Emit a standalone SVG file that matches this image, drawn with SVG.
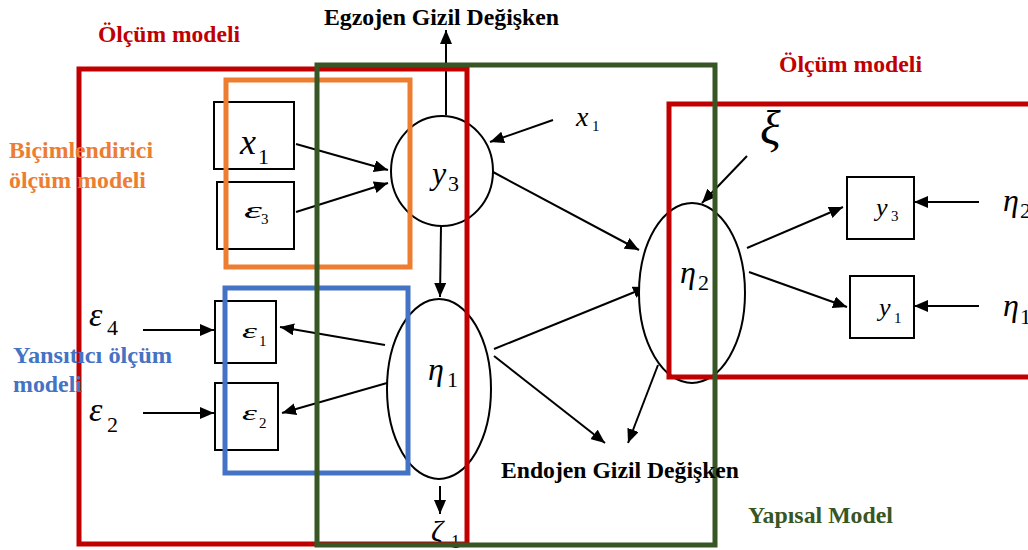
<svg xmlns="http://www.w3.org/2000/svg" width="1028" height="550" viewBox="0 0 1028 550">
<defs>
<marker id="ah" markerWidth="14" markerHeight="12" refX="14" refY="6" orient="auto" markerUnits="userSpaceOnUse"><path d="M0,0 L14,6 L0,12 z" fill="#000"/></marker>
<style>
.box{fill:#fff;stroke:#000;stroke-width:2}
.lat{fill:#fff;stroke:#000;stroke-width:2}
.con{stroke:#000;stroke-width:2;fill:none;marker-end:url(#ah)}
.frame{fill:none;stroke-width:5}
.m{font-family:"Liberation Serif",serif;font-style:italic;fill:#000}
.s{font-family:"Liberation Serif",serif;fill:#000}
.lb{font-family:"Liberation Serif",serif;font-weight:bold;font-size:23px}
</style>
</defs>
<rect width="1028" height="550" fill="#fff"/>

<g id="connectors">
<line class="con" x1="446" y1="115" x2="446" y2="30"/>
<line class="con" x1="441" y1="226" x2="440" y2="297"/>
<line class="con" x1="296" y1="144" x2="388" y2="170"/>
<line class="con" x1="296" y1="212" x2="388" y2="183"/>
<line class="con" x1="553" y1="120" x2="490" y2="142"/>
<line class="con" x1="493" y1="172" x2="639" y2="250"/>
<line class="con" x1="494" y1="349" x2="647" y2="287"/>
<line class="con" x1="494" y1="356" x2="605" y2="443"/>
<line class="con" x1="658" y1="365" x2="628" y2="443"/>
<line class="con" x1="747" y1="156" x2="702" y2="203"/>
<line class="con" x1="747" y1="248" x2="843" y2="207"/>
<line class="con" x1="749" y1="272" x2="847" y2="307"/>
<line class="con" x1="979" y1="202" x2="914" y2="202"/>
<line class="con" x1="979" y1="306" x2="914" y2="306"/>
<line class="con" x1="143" y1="330" x2="214" y2="330"/>
<line class="con" x1="143" y1="413" x2="214" y2="413"/>
<line class="con" x1="385" y1="345" x2="280" y2="327"/>
<line class="con" x1="387" y1="383" x2="282" y2="413"/>
<line class="con" x1="440" y1="486" x2="440" y2="514"/>
</g>

<g id="node-x1">
<rect class="box" x="214" y="102" width="80" height="67"/>
<text class="m" x="240" y="154" font-size="36">x</text><text class="s" x="258" y="164" font-size="22">1</text>
</g>
<g id="node-e3">
<rect class="box" x="217" y="182" width="77" height="67"/>
<text class="m" x="244" y="218" font-size="24" textLength="18" lengthAdjust="spacingAndGlyphs">ε</text><text class="s" x="261" y="224" font-size="15">3</text>
</g>
<g id="node-e1">
<rect class="box" x="215" y="301" width="61" height="62"/>
<text class="m" x="242" y="338" font-size="22" textLength="15" lengthAdjust="spacingAndGlyphs">ε</text><text class="s" x="259" y="346" font-size="15">1</text>
</g>
<g id="node-e2">
<rect class="box" x="215" y="383" width="63" height="67"/>
<text class="m" x="242" y="420" font-size="22" textLength="15" lengthAdjust="spacingAndGlyphs">ε</text><text class="s" x="259" y="428" font-size="15">2</text>
</g>
<g id="node-y3">
<ellipse class="lat" cx="442" cy="171" rx="51" ry="55"/>
<text class="m" x="432" y="184" font-size="32">y</text><text class="s" x="448" y="191" font-size="22">3</text>
</g>
<g id="node-eta1">
<ellipse class="lat" cx="439" cy="389" rx="52" ry="90"/>
<text class="m" x="428" y="380" font-size="32">η</text><text class="s" x="447" y="387" font-size="22">1</text>
</g>
<g id="node-eta2">
<ellipse class="lat" cx="692" cy="293" rx="53" ry="90"/>
<text class="m" x="680" y="283" font-size="32">η</text><text class="s" x="698" y="290" font-size="22">2</text>
</g>
<g id="node-y3b">
<rect class="box" x="847" y="177" width="67" height="62"/>
<text class="m" x="876" y="216" font-size="26">y</text><text class="s" x="891" y="221" font-size="15">3</text>
</g>
<g id="node-y1b">
<rect class="box" x="850" y="276" width="64" height="62"/>
<text class="m" x="879" y="316" font-size="26">y</text><text class="s" x="894" y="323" font-size="15">1</text>
</g>

<g id="labels">
<text class="m" x="89" y="326" font-size="34">ε</text><text class="s" x="107" y="335" font-size="22">4</text>
<text class="m" x="89" y="421" font-size="34">ε</text><text class="s" x="107" y="432" font-size="22">2</text>
<text class="m" x="576" y="126" font-size="28">x</text><text class="s" x="592" y="131" font-size="15">1</text>
<text class="m" x="760" y="144" font-size="48">ξ</text>
<text class="m" x="1003" y="211" font-size="32">η</text><text class="s" x="1020" y="218" font-size="22">2</text>
<text class="m" x="1003" y="316" font-size="32">η</text><text class="s" x="1020" y="324" font-size="22">1</text>
<text class="m" x="431" y="541" font-size="30">ζ</text><text class="s" x="451" y="548" font-size="18">1</text>
</g>

<g id="frames">
<rect class="frame" x="226" y="80" width="184" height="187" stroke="#ED7D31"/>
<rect class="frame" x="225" y="288" width="183" height="185" stroke="#4472C4"/>
<rect class="frame" x="79" y="69" width="388" height="475" stroke="#C00000"/>
<rect class="frame" x="669" y="104" width="370" height="273" stroke="#C00000"/>
<rect class="frame" x="317" y="65" width="398" height="480" stroke="#375623"/>
</g>

<g id="titles">
<text class="lb" x="324" y="25" fill="#000" textLength="235" lengthAdjust="spacingAndGlyphs">Egzojen Gizil Değişken</text>
<text class="lb" x="98" y="42" fill="#C00000" textLength="142" lengthAdjust="spacingAndGlyphs">Ölçüm modeli</text>
<text class="lb" x="779" y="72" fill="#C00000" textLength="143" lengthAdjust="spacingAndGlyphs">Ölçüm modeli</text>
<text class="lb" x="9" y="158" fill="#ED7D31" textLength="144" lengthAdjust="spacingAndGlyphs">Biçimlendirici</text>
<text class="lb" x="9" y="188" fill="#ED7D31" textLength="137" lengthAdjust="spacingAndGlyphs">ölçüm modeli</text>
<text class="lb" x="13" y="363" fill="#4472C4" textLength="159" lengthAdjust="spacingAndGlyphs">Yansıtıcı ölçüm</text>
<text class="lb" x="13" y="392" fill="#4472C4" textLength="69" lengthAdjust="spacingAndGlyphs">modeli</text>
<text class="lb" x="501" y="478" fill="#000" textLength="238" lengthAdjust="spacingAndGlyphs">Endojen Gizil Değişken</text>
<text class="lb" x="748" y="523" fill="#375623" textLength="145" lengthAdjust="spacingAndGlyphs">Yapısal Model</text>
</g>
</svg>
